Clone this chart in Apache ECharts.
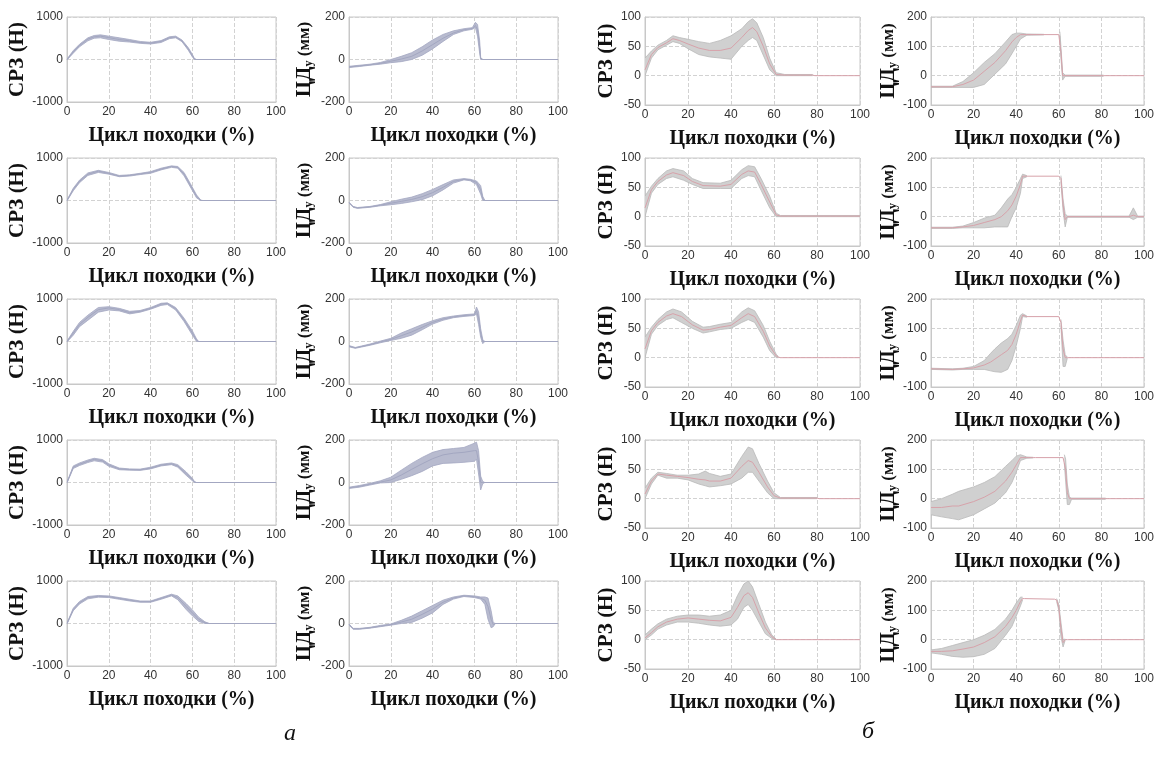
<!DOCTYPE html>
<html>
<head>
<meta charset="utf-8">
<script src="https://cdn.jsdelivr.net/npm/echarts@6/dist/echarts.min.js"></script>
<style>
  html, body { margin: 0; padding: 0; background: #fff; }
  #chart { width: 1157px; height: 760px; }
</style>
</head>
<body>
<div id="chart"></div>
<script>
// each point: [цикл %, нижняя граница, среднее, верхняя граница]
// null in a bound = band absent there, only the mean line is drawn

// а — СРЗ (Н)
var srzA1 = [[0,-10,0,10],[3,150,180,210],[6,300,330,360],[10,440,480,510],[13,500,535,565],[16,510,550,580],[20,470,515,550],[25,430,470,510],[30,410,440,470],[35,380,400,425],[40,365,385,405],[45,400,425,445],[49,490,515,535],[52,510,530,550],[55,420,440,460],[58,220,250,280],[60,60,90,120],[61,0,10,20],[62,0,0,0],[100,0,0,0]];
var srzA2 = [[0,-10,0,10],[3,230,260,290],[6,420,450,480],[10,590,620,650],[15,660,690,710],[20,620,640,660],[25,560,575,590],[30,575,590,605],[35,610,625,640],[40,640,660,680],[45,720,740,760],[50,780,800,815],[53,760,780,800],[56,580,620,660],[59,320,360,400],[62,60,100,130],[64,0,0,10],[65,0,0,0],[100,0,0,0]];
var srzA3 = [[0,-10,0,10],[3,150,200,240],[6,350,400,450],[10,500,570,620],[15,690,750,800],[20,740,790,820],[25,720,750,780],[30,650,680,710],[35,690,710,730],[40,760,780,800],[45,850,880,900],[48,870,895,910],[52,740,770,800],[56,470,510,550],[60,150,200,250],[62,0,30,60],[63,0,0,0],[100,0,0,0]];
var srzA4 = [[0,-10,0,10],[3,330,360,390],[6,400,430,460],[10,470,500,530],[13,510,545,570],[17,480,510,540],[20,380,410,440],[25,300,320,340],[30,290,305,320],[35,285,300,315],[40,320,340,360],[45,390,410,430],[50,420,440,460],[53,360,390,420],[57,170,210,250],[60,40,70,100],[61,0,10,20],[62,0,0,0],[100,0,0,0]];
var srzA5 = [[0,-10,0,10],[3,300,330,360],[6,460,490,520],[10,580,610,635],[15,620,640,660],[20,610,630,650],[25,570,590,610],[30,530,550,570],[35,500,515,530],[40,500,515,530],[45,570,590,610],[50,650,670,690],[53,560,610,650],[57,330,400,470],[60,180,250,320],[63,50,100,150],[66,0,20,40],[68,0,0,0],[100,0,0,0]];

// а — ЦДу (мм)
var cdA1 = [[0,-38,-35,-32],[5,-33,-30,-27],[10,-27,-25,-22],[15,-22,-18,-14],[20,-15,-8,0],[25,-10,2,15],[30,0,15,32],[35,20,40,60],[40,50,70,92],[45,85,100,118],[50,118,125,135],[55,135,140,145],[59,142,146,150],[60.5,150,160,175],[61.5,110,140,165],[62.5,30,60,90],[63,0,5,10],[64,0,0,0],[100,0,0,0]];
var cdA2 = [[0,-12,-10,-8],[2,-32,-30,-28],[4,-37,-35,-33],[10,-32,-30,-28],[15,-25,-22,-19],[20,-20,-13,-6],[25,-14,-4,6],[30,-6,5,16],[35,4,18,32],[40,22,37,52],[45,50,62,75],[50,82,90,97],[55,97,100,103],[58,93,97,100],[61,75,85,92],[63,30,50,70],[64,0,10,20],[65,0,0,0],[100,0,0,0]];
var cdA3 = [[0,-25,-22,-19],[3,-32,-30,-28],[10,-18,-15,-12],[15,-6,-2,2],[20,5,10,15],[25,15,27,40],[30,30,45,60],[35,55,67,80],[40,82,90,98],[45,100,106,112],[50,112,116,120],[55,118,122,126],[60,122,126,130],[61,130,145,162],[62,80,110,140],[63,20,40,60],[64,-10,0,10],[65,0,0,0],[100,0,0,0]];
var cdA4 = [[0,-28,-25,-22],[5,-22,-18,-14],[10,-12,-8,-4],[15,-2,2,8],[20,0,12,25],[25,15,35,58],[30,32,62,90],[35,52,88,118],[40,78,112,142],[45,90,130,155],[50,92,138,160],[55,95,142,165],[60,100,150,185],[61,110,150,190],[62,40,95,150],[63,-35,0,30],[64,-5,0,5],[65,0,0,0],[100,0,0,0]];
var cdA5 = [[0,-8,-5,-2],[2,-27,-25,-23],[5,-27,-25,-23],[10,-22,-20,-18],[15,-15,-12,-9],[20,-8,-5,-2],[25,0,7,15],[30,5,20,35],[35,25,43,60],[40,50,68,85],[45,90,100,110],[50,115,120,125],[55,127,130,133],[60,122,126,130],[63,115,120,125],[65,90,110,125],[66.5,20,80,120],[68,-20,20,60],[69,-15,-5,5],[70,0,0,0],[100,0,0,0]];

// б — СРЗ (Н)
var srzB1 = [[0,0,10,30],[3,30,36,42],[6,44,48,52],[10,52,56,60],[13,58,63,68],[16,55,60,65],[20,46,54,62],[25,36,47,58],[30,32,43,55],[35,30,43,60],[40,28,47,68],[45,50,65,80],[48,60,77,92],[50,65,82,97],[52,60,75,90],[55,35,50,65],[58,10,20,30],[61,0,2,5],[65,0,1,2],[78,0,1,2],[79,null,0,null],[100,null,0,null]];
var srzB2 = [[0,0,15,35],[3,40,46,52],[6,55,60,65],[10,65,71,78],[13,68,75,82],[18,62,70,78],[22,55,60,65],[27,48,53,58],[35,48,52,57],[40,48,55,62],[45,65,72,80],[48,70,78,87],[51,68,76,85],[54,45,55,65],[58,15,25,35],[61,0,3,6],[63,0,1,2],[100,0,1,2]];
var srzB3 = [[0,0,15,35],[3,40,46,52],[6,55,60,65],[10,65,71,78],[13,68,75,83],[17,60,70,78],[22,50,56,62],[27,42,47,52],[30,44,48,53],[35,48,52,57],[40,50,55,60],[45,60,68,78],[48,65,75,85],[51,60,70,80],[55,35,45,55],[58,12,20,28],[61,0,3,6],[62,0,1,2],[63,null,0,null],[100,null,0,null]];
var srzB4 = [[0,0,8,18],[3,25,30,35],[6,40,42,45],[10,35,40,43],[15,35,38,40],[20,32,36,40],[25,25,33,42],[28,22,32,47],[30,20,30,43],[35,22,30,38],[40,25,35,42],[45,35,55,72],[48,45,65,88],[50,45,62,85],[53,30,45,60],[57,10,20,30],[60,0,5,10],[63,0,1,2],[80,0,1,2],[81,null,0,null],[100,null,0,null]];
var srzB5 = [[0,0,3,8],[3,8,12,18],[6,18,22,27],[10,25,30,35],[15,30,35,40],[20,30,37,42],[25,28,35,42],[30,25,33,40],[35,23,32,42],[40,25,38,50],[43,35,55,75],[46,55,75,95],[48,60,80,100],[50,50,72,90],[53,30,45,60],[56,10,20,30],[59,2,5,8],[61,0,0,1],[62,null,0,null],[100,null,0,null]];

// б — ЦДу (мм)
var cdB1 = [[0,-40,-38,-36],[10,-40,-38,-36],[15,-40,-30,-20],[20,-40,-15,10],[25,-30,15,45],[30,5,45,75],[35,40,85,115],[38,75,115,140],[40,100,130,145],[42,125,140,145],[45,138,140,142],[53,139,140,141],[54,null,140,null],[60,null,140,null],[60.5,135,142,150],[61,60,80,100],[61.8,-15,0,10],[63,-2,0,2],[81,-2,0,2],[82,null,0,null],[100,null,0,null]];
var cdB2 = [[0,-40,-38,-36],[10,-40,-38,-36],[15,-38,-35,-32],[20,-38,-30,-20],[25,-38,-20,-5],[30,-35,-10,5],[33,-35,0,30],[36,-35,20,60],[38,0,40,75],[40,30,70,100],[42,80,110,130],[43,130,138,145],[45,136,138,140],[46,null,138,null],[60,null,138,null],[61,120,130,140],[62,20,40,60],[63,-35,-10,10],[64,-2,0,2],[93,-2,0,2],[95,-10,5,30],[97,-2,0,2],[100,-2,0,2]];
var cdB3 = [[0,-40,-38,-36],[10,-42,-40,-38],[15,-40,-38,-36],[20,-40,-35,-30],[25,-40,-25,-10],[28,-45,-15,15],[30,-48,-5,30],[33,-50,10,50],[36,-40,25,65],[38,-10,45,80],[40,40,80,110],[42,100,125,145],[43,140,145,150],[45,138,140,142],[46,null,140,null],[60,null,140,null],[61,110,120,130],[62,-30,30,60],[63,-30,0,10],[64,-2,0,2],[66,null,0,null],[100,null,0,null]];
var cdB4 = [[0,-55,-30,-10],[5,-62,-30,0],[10,-68,-25,15],[13,-72,-25,25],[20,-55,-10,40],[25,-35,5,55],[30,-15,25,75],[35,20,60,110],[38,55,90,130],[40,90,115,145],[42,130,140,150],[45,138,140,142],[48,139,140,141],[49,null,140,null],[62,null,140,null],[62.6,120,135,150],[63.2,60,100,135],[64,-20,20,50],[65,-20,0,5],[66,-2,0,2],[82,-2,0,2],[83,null,0,null],[100,null,0,null]];
var cdB5 = [[0,-45,-40,-35],[5,-50,-40,-30],[10,-57,-38,-20],[15,-60,-32,-10],[20,-58,-25,0],[25,-50,-10,15],[30,-30,10,35],[35,15,45,70],[38,45,75,100],[40,80,100,125],[42,115,130,145],[43,135,140,145],[44,null,140,null],[58,null,138,null],[59,130,135,140],[60,100,110,120],[61,10,40,60],[62,-25,-10,0],[63,-2,0,2],[64,null,0,null],[100,null,0,null]];

var rows = [
  [srzA1, cdA1, srzB1, cdB1],
  [srzA2, cdA2, srzB2, cdB2],
  [srzA3, cdA3, srzB3, cdB3],
  [srzA4, cdA4, srzB4, cdB4],
  [srzA5, cdA5, srzB5, cdB5]
];

// колонки: а-СРЗ, а-ЦД, б-СРЗ, б-ЦД
var cols = [
  { left: 67,  width: 209, height: 85, min: -1000, max: 1000, step: 1000, name: "СРЗ (Н)", gap: 37, fill: "#b8bbcf", edge: "#a3a7c1", mean: "#a3a7c1" },
  { left: 349, width: 209, height: 85, min: -200,  max: 200,  step: 200,  name: "{a|ЦД}{s|у}{b| (мм)}", gap: 34, fill: "#b8bbcf", edge: "#a3a7c1", mean: "#a3a7c1" },
  { left: 645, width: 215, height: 88, min: -50,   max: 100,  step: 50,   name: "СРЗ (Н)", gap: 28, fill: "#d0d0d0", edge: "#b9b9b9", mean: "#d7a2aa" },
  { left: 931, width: 214, height: 88, min: -100,  max: 200,  step: 100,  name: "{a|ЦД}{s|у}{b| (мм)}", gap: 27, fill: "#d0d0d0", edge: "#b9b9b9", mean: "#d7a2aa" }
];

var serif = "'Liberation Serif', 'DejaVu Serif', serif";
var sans = "'Liberation Sans', Arial, sans-serif";

function bandSeries(data, gi, fill, edge) {
  return {
    type: "custom",
    xAxisIndex: gi,
    yAxisIndex: gi,
    silent: true,
    clip: true,
    z: 2,
    data: [[0, 0]],
    renderItem: function (params, api) {
      var segs = [], cur = [];
      data.forEach(function (d) {
        if (d[1] == null) { if (cur.length) segs.push(cur); cur = []; }
        else cur.push(d);
      });
      if (cur.length) segs.push(cur);
      var children = [];
      segs.forEach(function (s) {
        var top = s.map(function (d) { return api.coord([d[0], d[3]]); });
        var bot = s.map(function (d) { return api.coord([d[0], d[1]]); }).reverse();
        children.push({ type: "polygon", shape: { points: top.concat(bot) }, style: { fill: fill, stroke: null } });
        children.push({ type: "polyline", shape: { points: top }, style: { stroke: edge, lineWidth: 0.8, fill: "none" } });
        children.push({ type: "polyline", shape: { points: bot }, style: { stroke: edge, lineWidth: 0.8, fill: "none" } });
      });
      return { type: "group", children: children };
    }
  };
}

function plainNum(v) { return String(v); }

var grid = [], xAxis = [], yAxis = [], series = [];
rows.forEach(function (row, r) {
  row.forEach(function (data, c) {
    var cfg = cols[c];
    var gi = grid.length;
    grid.push({
      left: cfg.left, top: 17 + r * 141, width: cfg.width, height: cfg.height,
      show: true, borderColor: "#c8c8c8", borderWidth: 1, backgroundColor: "transparent"
    });
    xAxis.push({
      type: "value", gridIndex: gi, min: 0, max: 100, interval: 20,
      axisLine: { show: true, onZero: false, lineStyle: { color: "#c8c8c8" } },
      axisTick: { show: false },
      axisLabel: { color: "#333", fontSize: 12, fontFamily: sans, margin: 4, formatter: plainNum },
      splitLine: { show: true, lineStyle: { type: "dashed", color: "#d2d2d2" } },
      name: "Цикл походки (%)", nameLocation: "middle", nameGap: 24,
      nameTextStyle: { fontFamily: serif, fontWeight: "bold", fontSize: 20, color: "#111" }
    });
    yAxis.push({
      type: "value", gridIndex: gi, min: cfg.min, max: cfg.max, interval: cfg.step,
      axisLine: { show: true, onZero: false, lineStyle: { color: "#c8c8c8" } },
      axisTick: { show: false },
      axisLabel: { color: "#333", fontSize: 12, fontFamily: sans, margin: 4, formatter: plainNum },
      splitLine: { show: true, lineStyle: { type: "dashed", color: "#d2d2d2" } },
      name: cfg.name, nameLocation: "middle", nameGap: cfg.gap,
      nameTextStyle: {
        fontFamily: serif, fontWeight: "bold", fontSize: 21, color: "#111",
        rich: {
          a: { fontFamily: serif, fontWeight: "bold", fontSize: 21, color: "#111" },
          s: { fontFamily: serif, fontWeight: "bold", fontSize: 12, color: "#111", verticalAlign: "bottom", padding: [8, 0, 0, 0] },
          b: { fontFamily: serif, fontWeight: "bold", fontSize: 17, color: "#111" }
        }
      }
    });
    series.push(bandSeries(data, gi, cfg.fill, cfg.edge));
    series.push({
      type: "line", xAxisIndex: gi, yAxisIndex: gi, silent: true, z: 3,
      showSymbol: false, connectNulls: true,
      lineStyle: { color: cfg.mean, width: 1 },
      data: data.map(function (d) { return [d[0], d[2]]; })
    });
  });
});

var chart = echarts.init(document.getElementById("chart"));
chart.setOption({
  backgroundColor: "#fff",
  animation: false,
  grid: grid,
  xAxis: xAxis,
  yAxis: yAxis,
  series: series,
  graphic: [
    { type: "text", left: 284, top: 722, style: { text: "а", font: "italic 24px " + serif, fill: "#111" } },
    { type: "text", left: 862, top: 720, style: { text: "б", font: "italic 24px " + serif, fill: "#111" } }
  ]
});
</script>
</body>
</html>
